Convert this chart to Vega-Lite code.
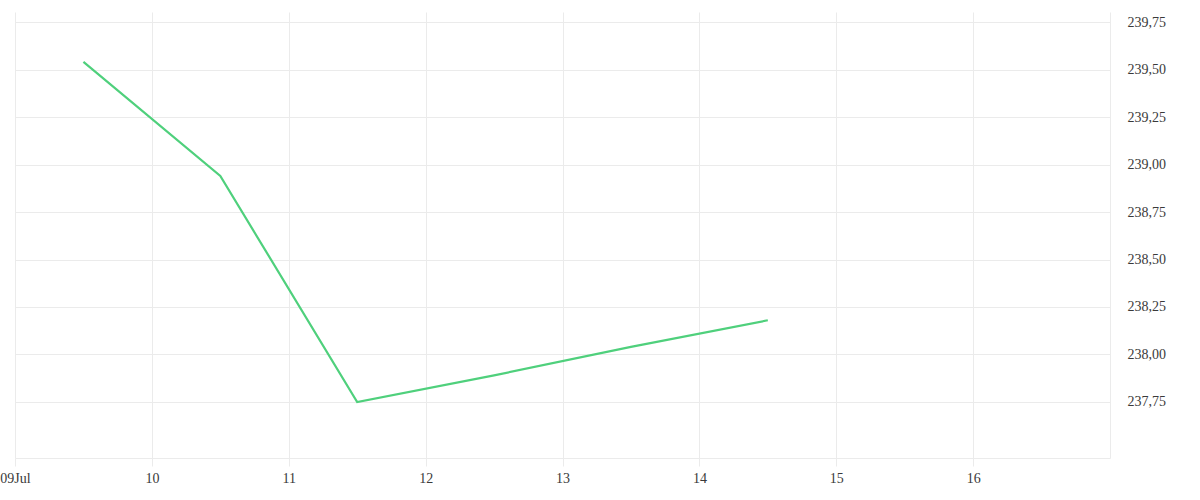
{
  "$schema": "https://vega.github.io/schema/vega-lite/v6.json",
  "width": 1095,
  "height": 446,
  "autosize": {"type": "none"},
  "padding": {"left": 15, "top": 12, "right": 90, "bottom": 42},
  "background": "white",
  "config": {"view": {"stroke": null}, "font": "Liberation Serif", "axis": {"labelFont": "Liberation Serif"}},
  "data": {"values": [
    {"date": "2023-07-09T12:00:00Z", "price": 239.54},
    {"date": "2023-07-10T12:00:00Z", "price": 238.94},
    {"date": "2023-07-11T12:00:00Z", "price": 237.75},
    {"date": "2023-07-12T12:00:00Z", "price": 237.89},
    {"date": "2023-07-13T12:00:00Z", "price": 238.04},
    {"date": "2023-07-14T12:00:00Z", "price": 238.18}
  ]},
  "mark": {"type": "line", "color": "#4fd07c", "strokeWidth": 2.2},
  "encoding": {
    "x": {
      "field": "date", "type": "temporal",
      "scale": {"type": "utc", "domain": [{"year": 2023, "month": 7, "date": 9, "utc": true}, {"year": 2023, "month": 7, "date": 17, "utc": true}]},
      "axis": {
        "title": null,
        "values": [
          {"year": 2023, "month": 7, "date": 9, "utc": true},
          {"year": 2023, "month": 7, "date": 10, "utc": true},
          {"year": 2023, "month": 7, "date": 11, "utc": true},
          {"year": 2023, "month": 7, "date": 12, "utc": true},
          {"year": 2023, "month": 7, "date": 13, "utc": true},
          {"year": 2023, "month": 7, "date": 14, "utc": true},
          {"year": 2023, "month": 7, "date": 15, "utc": true},
          {"year": 2023, "month": 7, "date": 16, "utc": true}
        ],
        "labelExpr": "utcFormat(datum.value, '%d') + (utcdate(datum.value) == 9 ? 'Jul' : '')",
        "grid": true, "gridColor": "#ebebeb", "gridWidth": 1,
        "domain": true, "domainColor": "#ebebeb",
        "ticks": true, "tickColor": "#ebebeb", "tickSize": 8,
        "labelFont": "Liberation Serif",
        "labelFontSize": 14, "labelColor": "#3a3a3a", "labelPadding": 5,
        "labelFlush": false, "labelOverlap": false
      }
    },
    "y": {
      "field": "price", "type": "quantitative",
      "scale": {"domain": [237.455, 239.803], "zero": false, "nice": false},
      "axis": {
        "title": null, "orient": "right",
        "values": [237.75, 238, 238.25, 238.5, 238.75, 239, 239.25, 239.5, 239.75],
        "labelExpr": "replace(format(datum.value, '.2f'), '.', ',')",
        "grid": true, "gridColor": "#ebebeb", "gridWidth": 1,
        "domain": true, "domainColor": "#ebebeb",
        "ticks": false, "labelPadding": 17,
        "labelFont": "Liberation Serif",
        "labelFontSize": 14, "labelColor": "#3a3a3a"
      }
    }
  }
}
